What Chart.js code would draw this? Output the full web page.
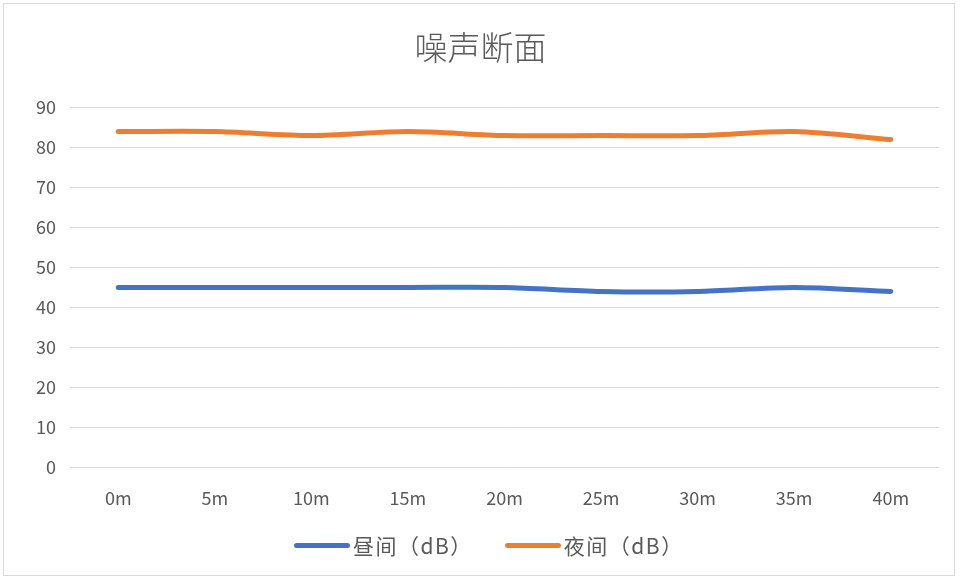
<!DOCTYPE html>
<html>
<head>
<meta charset="utf-8">
<script src="https://cdn.jsdelivr.net/npm/chart.js@4/dist/chart.umd.min.js"></script>
<style>
  html, body { margin: 0; padding: 0; background: #fff; }
  #wrap { position: relative; width: 961px; height: 581px; }
  #frame { position: absolute; left: 3px; top: 3px; width: 952px; height: 573px; border: 1px solid #d9d9d9; box-sizing: border-box; }
  canvas { position: absolute; left: 0; top: 0; }
  #legend { position: absolute; left: 294px; top: 530px; display: flex; align-items: center; gap: 32px;
            font-family: "Noto Sans CJK SC", "Noto Sans", sans-serif; font-size: 21px; letter-spacing: 1.5px; color: #595959; }
  .item { display: flex; align-items: center; white-space: nowrap; }
  .swatch { width: 56px; height: 5px; border-radius: 3px; margin-right: 3px; }
</style>
</head>
<body>
<div id="wrap">
  <div id="frame"></div>
  <canvas id="noiseChart" width="961" height="581"></canvas>
  <div id="legend"></div>
</div>
<script>
const categories = ['0m', '5m', '10m', '15m', '20m', '25m', '30m', '35m', '40m'];
const dayValues = [45, 45, 45, 45, 45, 44, 44, 45, 44];
const nightValues = [84, 84, 83, 84, 83, 83, 83, 84, 82];
const seriesNames = ['昼间（dB）', '夜间（dB）'];
const seriesColors = ['#4472c4', '#ed7d31'];
const yTicks = [0, 10, 20, 30, 40, 50, 60, 70, 80, 90];

const FONT = '"Noto Sans CJK SC", "Noto Sans", sans-serif';
const TEXT = '#595959';

const chart = new Chart(document.getElementById('noiseChart'), {
  type: 'line',
  data: {
    labels: categories,
    datasets: [
      { label: seriesNames[0], data: dayValues, borderColor: seriesColors[0], backgroundColor: seriesColors[0], borderWidth: 5, pointRadius: 0, tension: 0.3, borderCapStyle: 'round' },
      { label: seriesNames[1], data: nightValues, borderColor: seriesColors[1], backgroundColor: seriesColors[1], borderWidth: 5, pointRadius: 0, tension: 0.3, borderCapStyle: 'round' }
    ]
  },
  options: {
    responsive: false,
    animation: false,
    layout: { padding: { top: 28, left: 22, right: 22, bottom: 60 } },
    plugins: {
      title: { display: true, text: '噪声断面', color: TEXT, font: { family: FONT, size: 33, weight: 300 }, padding: { top: 0, bottom: 40 } },
      legend: { display: false },
      tooltip: { enabled: false }
    },
    scales: {
      x: {
        offset: true,
        grid: { display: false },
        border: { display: false },
        ticks: { color: TEXT, font: { family: FONT, size: 18 }, padding: 12 }
      },
      y: {
        min: 0, max: 90,
        afterBuildTicks: axis => { axis.ticks = yTicks.map(v => ({ value: v })); },
        grid: { color: '#d9d9d9', lineWidth: 1, drawTicks: false },
        border: { display: false },
        ticks: { color: TEXT, font: { family: FONT, size: 18 }, padding: 14 }
      }
    }
  }
});

// legend built from the datasets
document.getElementById('legend').innerHTML = chart.data.datasets.map(ds =>
  `<div class="item"><span class="swatch" style="background:${ds.borderColor}"></span>${ds.label}</div>`
).join('');
</script>
</body>
</html>
